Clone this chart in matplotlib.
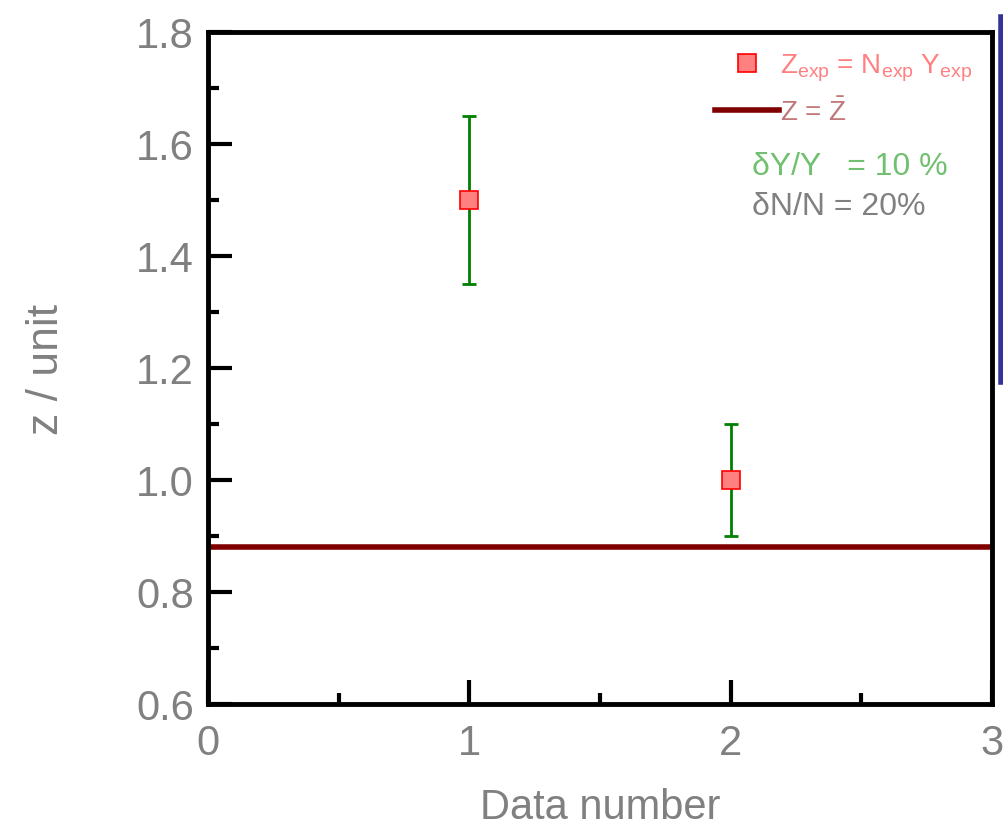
import matplotlib
matplotlib.use("Agg")
from matplotlib import pyplot as plt
from matplotlib.lines import Line2D
import numpy as np

plt.rcParams['font.family'] = ['Liberation Sans', 'DejaVu Sans']
plt.rcParams['mathtext.fontset'] = 'custom'
plt.rcParams['mathtext.rm'] = 'Liberation Sans'
plt.rcParams['mathtext.it'] = 'Liberation Sans'

# data
data_num = [1, 2]
z_exp = [1.5, 1.0]
z_err = [0.15, 0.10]
z_mean = 0.88

grey = '#808080'

fig = plt.figure(figsize=(10.04, 8.28), dpi=100)
ax = fig.add_axes([208/1004, 1-705/828, (992-208)/1004, (705-33)/828])

ax.axhline(z_mean, color='#800000', lw=4, zorder=2)
ax.errorbar(data_num, z_exp, yerr=z_err, fmt='none', ecolor='#008000',
            elinewidth=2, capsize=5, capthick=2, zorder=3)
ax.plot(data_num, z_exp, 's', ms=13, mfc='#ff8080', mec='#ff0000', mew=1.2, zorder=4)

ax.set_xlim(0, 3)
ax.set_ylim(0.6, 1.8)
ax.set_xticks([0, 1, 2, 3])
ax.set_xticks([0.5, 1.5, 2.5], minor=True)
ax.set_yticks(np.arange(0.6, 1.81, 0.2))
ax.set_yticks(np.arange(0.7, 1.8, 0.2), minor=True)
ax.set_yticklabels(['0.6', '0.8', '1.0', '1.2', '1.4', '1.6', '1.8'])
ax.tick_params(which='both', direction='in', width=3, colors='black',
               labelcolor=grey, labelsize=30)
ax.tick_params(axis='x', pad=14)
ax.tick_params(axis='y', pad=10)
ax.tick_params(which='major', length=17)
ax.tick_params(which='minor', length=8)
for s in ax.spines.values():
    s.set_linewidth(3.5)

ax.set_xlabel('Data number', fontsize=30, color=grey)
ax.set_ylabel('z / unit', fontsize=32, color=grey)
ax.xaxis.set_label_coords(0.5, -0.124)
ax.yaxis.set_label_coords(-0.18, 0.5)

handles = [Line2D([], [], ls='none', marker='s', ms=13, mfc='#ff8080', mec='#ff0000', mew=1.2),
           Line2D([], [], color='#800000', lw=4)]
leg = ax.legend(handles, [r'Z$_{\rm exp}$ = N$_{\rm exp}$ Y$_{\rm exp}$', r'Z = $\bar{\rm Z}$'],
                loc='upper right', bbox_to_anchor=(0.975, 0.97), frameon=False,
                fontsize=20, handlelength=2.3, handletextpad=0.05, borderaxespad=0,
                borderpad=0, labelspacing=0.5)
leg.get_texts()[0].set_color('#ff8080')
leg.get_texts()[1].set_color('#c07878')

ax.text(0.694, 0.789, 'δY/Y   = 10 %', transform=ax.transAxes, ha='left', va='baseline',
        fontsize=23, color='#70c070')
ax.text(0.694, 0.729, 'δN/N = 20%', transform=ax.transAxes, ha='left', va='baseline',
        fontsize=23, color=grey)

fig.add_artist(Line2D([1001/1004, 1001/1004], [1-18/828, 1-383/828],
                      transform=fig.transFigure, color='#333399', lw=4))

fig.savefig('out.png', dpi=100)
